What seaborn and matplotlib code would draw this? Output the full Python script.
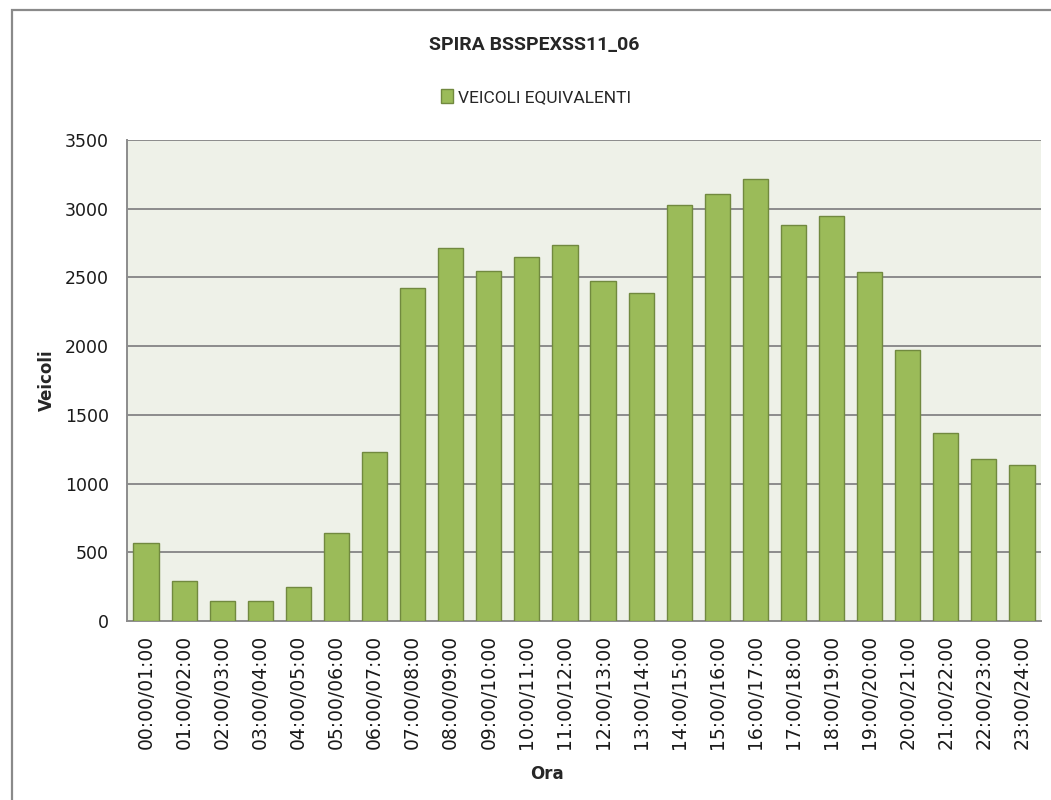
import matplotlib
matplotlib.use("Agg")
import matplotlib.pyplot as plt
from matplotlib.patches import Rectangle, Patch
import seaborn as sns
import pandas as pd

# Hourly equivalent-vehicle counts for the loop detector
hours = [
    "00:00/01:00", "01:00/02:00", "02:00/03:00", "03:00/04:00", "04:00/05:00",
    "05:00/06:00", "06:00/07:00", "07:00/08:00", "08:00/09:00", "09:00/10:00",
    "10:00/11:00", "11:00/12:00", "12:00/13:00", "13:00/14:00", "14:00/15:00",
    "15:00/16:00", "16:00/17:00", "17:00/18:00", "18:00/19:00", "19:00/20:00",
    "20:00/21:00", "21:00/22:00", "22:00/23:00", "23:00/24:00",
]
vehicles = [
    565, 293, 146, 146, 245, 638, 1232, 2425, 2712, 2549, 2649, 2736,
    2474, 2389, 3029, 3107, 3216, 2882, 2945, 2537, 1970, 1366, 1181, 1133,
]
y_ticks = [0, 500, 1000, 1500, 2000, 2500, 3000, 3500]

title = "SPIRA BSSPEXSS11_06"
series_name = "VEICOLI EQUIVALENTI"

sns.set_theme(style="white")
narrow = ["Roboto", "DejaVu Sans"]
plt.rcParams["font.family"] = ["DejaVu Sans"]

bar_color = "#9BBB59"
edge_color = "#71893F"
grid_color = "#8C8C8C"

df = pd.DataFrame({"Ora": hours, "Veicoli": vehicles})

fig = plt.figure(figsize=(10.51, 8.0), dpi=100)
ax = fig.add_axes([127 / 1051, 1 - 621 / 800, (1041 - 127) / 1051, (621 - 140) / 800])
ax.set_facecolor("#EEF1E8")

sns.barplot(data=df, x="Ora", y="Veicoli", color=bar_color, edgecolor=edge_color,
            linewidth=1.0, width=0.66, saturation=1, ax=ax, zorder=3)

ax.set_ylim(0, 3500)
ax.set_xlim(-0.5, len(hours) - 0.5)
ax.set_yticks(y_ticks)
ax.set_yticklabels([str(t) for t in y_ticks], fontsize=12.5, color="#1a1a1a")
ax.set_xticks(range(len(hours)))
ax.set_xticklabels(hours, rotation=90, fontsize=13.5, color="#1a1a1a")
ax.tick_params(axis="y", length=0, pad=13)
ax.tick_params(axis="x", length=0, pad=10)

for y in y_ticks[1:]:
    ax.axhline(y, color=grid_color, linewidth=1.4, zorder=1)

for side in ["top", "right"]:
    ax.spines[side].set_visible(False)
ax.spines["left"].set_color(grid_color)
ax.spines["bottom"].set_color(grid_color)
ax.spines["left"].set_linewidth(1.4)
ax.spines["bottom"].set_linewidth(1.4)

ax.set_ylabel("Veicoli", fontsize=12, fontweight="bold")
ax.set_xlabel("Ora", fontsize=12, fontweight="bold")
ax.yaxis.set_label_coords(-0.078, 0.5)
ax.xaxis.set_label_coords(0.459, -0.30)

fig.text(0.508, 1 - 45 / 800, title, ha="center", va="center",
         fontsize=14, fontweight="bold", family=narrow)

handle = Patch(facecolor=bar_color, edgecolor=edge_color, label=series_name)
fig.legend(handles=[handle], loc="center", bbox_to_anchor=(0.51, 1 - 97 / 800),
           frameon=False, prop={"family": narrow, "size": 12.5},
           handlelength=0.7, handleheight=0.9, handletextpad=0.3)

# Outer chart frame
fig.patches.append(Rectangle((12 / 1051, -0.05), 1.2, 1 - 10 / 800 + 0.05,
                             transform=fig.transFigure, fill=False,
                             edgecolor="#8A8A8A", linewidth=1.6))

fig.savefig("out.png", dpi=100, facecolor="white")
